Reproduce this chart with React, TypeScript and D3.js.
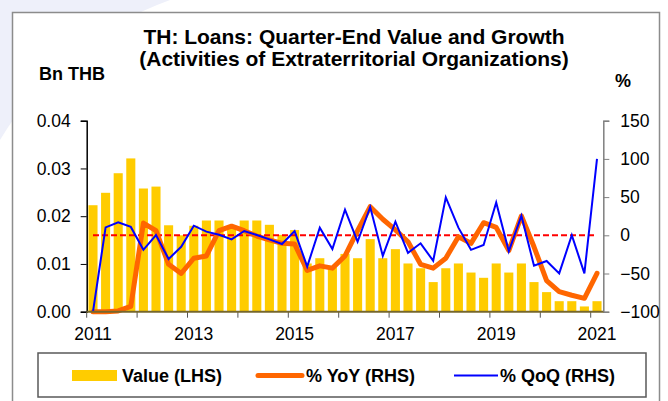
import { useEffect, useRef } from 'react';
import * as d3 from 'd3';

// quarter-end categories, 2011Q1 .. 2021Q1
const quarters = [
  '2011Q1', '2011Q2', '2011Q3', '2011Q4', '2012Q1', '2012Q2', '2012Q3', '2012Q4',
  '2013Q1', '2013Q2', '2013Q3', '2013Q4', '2014Q1', '2014Q2', '2014Q3', '2014Q4',
  '2015Q1', '2015Q2', '2015Q3', '2015Q4', '2016Q1', '2016Q2', '2016Q3', '2016Q4',
  '2017Q1', '2017Q2', '2017Q3', '2017Q4', '2018Q1', '2018Q2', '2018Q3', '2018Q4',
  '2019Q1', '2019Q2', '2019Q3', '2019Q4', '2020Q1', '2020Q2', '2020Q3', '2020Q4',
  '2021Q1',
];

// Value (LHS), Bn THB
const valueBn = [
  0.0223, 0.0249, 0.029, 0.0321, 0.0258, 0.0262, 0.0181, 0.016,
  0.018, 0.0191, 0.0191, 0.0181, 0.0191, 0.0191, 0.0182, 0.0161,
  0.0171, 0.0101, 0.0112, 0.0093, 0.0121, 0.0112, 0.0152, 0.0112,
  0.0131, 0.0101, 0.0091, 0.0062, 0.0091, 0.0101, 0.0082, 0.0071,
  0.0101, 0.0082, 0.0101, 0.0062, 0.0041, 0.0022, 0.0022, 0.0011,
  0.0022,
];

// % YoY (RHS)
const yoyPct = [
  -100, -100, -99, -93, 16, 6, -38, -50,
  -30, -27, 6, 12, 6, -1, -6, -10.5,
  -11.4, -46, -40, -43, -27, 6, 37.5, 21,
  7, -8.4, -38, -43, -30, -2, -10.5, 16.5,
  10.4, -20, 25.3, -15, -59.4, -73.8, -78.5, -82.5,
  -49.8,
];

// % QoQ (RHS)
const qoqPct = [
  -100, 10.4, 17, 11, -19, 0.4, -31, -15,
  12.6, 4.8, 0.8, -5.3, 5.6, 0.4, -5.3, -11.4,
  5.5, -41, 10, -18, 33.5, -8.4, 37, -27,
  17.8, -23, -10.5, -33.4, 49.7, 10, -19, -12.7,
  43, -21, 25.5, -39.8, -33.6, -49.8, 0, -49.8,
  100,
];

const leftTicks = [0, 0.01, 0.02, 0.03, 0.04];
const rightTicks = [-100, -50, 0, 50, 100, 150];
const yearLabels = ['2011', '2013', '2015', '2017', '2019', '2021'];

const FONT = "Arial, 'Liberation Sans', sans-serif";

const App = () => {
  const svgRef = useRef<SVGSVGElement>(null);

  useEffect(() => {
    const svg = d3.select(svgRef.current);
    svg.selectAll('*').remove();

    const plot = { left: 86.7, right: 603.3, top: 120.7, bottom: 311.7 };

    // faint decoration behind the frame
    svg
      .append('path')
      .attr('d', 'M0,0 L170,0 Q60,40 0,140 Z')
      .attr('fill', '#eef0fa');

    // frame
    svg
      .append('rect')
      .attr('x', 12.5)
      .attr('y', 12.5)
      .attr('width', 647)
      .attr('height', 400)
      .attr('fill', '#fff')
      .attr('stroke', '#8c8c8c')
      .attr('stroke-width', 1.5);

    // scales
    const x = d3
      .scaleBand<string>()
      .domain(quarters)
      .range([plot.left, plot.right])
      .paddingInner(0.28)
      .paddingOuter(0.14);
    const xc = (q: string) => (x(q) as number) + x.bandwidth() / 2;

    const yL = d3.scaleLinear().domain([0, 0.04]).range([plot.bottom, plot.top]);
    const yR = d3.scaleLinear().domain([-100, 150]).range([plot.bottom, plot.top]);

    // bars
    svg
      .append('g')
      .selectAll('rect')
      .data(valueBn)
      .join('rect')
      .attr('x', (_d, i) => x(quarters[i]) as number)
      .attr('y', (d) => yL(d))
      .attr('width', x.bandwidth())
      .attr('height', (d) => yL(0) - yL(d))
      .attr('fill', '#ffcc00');

    // zero reference on RHS
    svg
      .append('line')
      .attr('x1', xc(quarters[0]))
      .attr('x2', xc(quarters[quarters.length - 1]))
      .attr('y1', yR(0))
      .attr('y2', yR(0))
      .attr('stroke', '#ff0000')
      .attr('stroke-width', 2)
      .attr('stroke-dasharray', '6,3');

    const line = d3
      .line<number>()
      .x((_d, i) => xc(quarters[i]))
      .y((d) => yR(d));

    svg
      .append('path')
      .datum(yoyPct)
      .attr('fill', 'none')
      .attr('stroke', '#ff6600')
      .attr('stroke-width', 5)
      .attr('stroke-linejoin', 'round')
      .attr('stroke-linecap', 'round')
      .attr('d', line);

    svg
      .append('path')
      .datum(qoqPct)
      .attr('fill', 'none')
      .attr('stroke', '#0000ff')
      .attr('stroke-width', 2)
      .attr('d', line);

    // left axis
    const gL = svg
      .append('g')
      .attr('transform', `translate(${plot.left},0)`)
      .call(
        d3
          .axisLeft(yL)
          .tickValues(leftTicks)
          .tickFormat(d3.format('.2f'))
          .tickSize(6)
          .tickPadding(10)
      );
    gL.select('.domain').attr('stroke', '#000').attr('stroke-width', 1.5);
    gL.selectAll('.tick line').attr('stroke', '#000');
    gL.selectAll('text').attr('font-size', 17.5).attr('font-family', FONT).attr('fill', '#000');

    // right axis
    const gR = svg
      .append('g')
      .attr('transform', `translate(${plot.right},0)`)
      .call(d3.axisRight(yR).tickValues(rightTicks).tickSize(6).tickPadding(11));
    gR.select('.domain').attr('stroke', '#808080').attr('stroke-width', 1.5);
    gR.selectAll('.tick line').attr('stroke', '#808080');
    gR.selectAll('text').attr('font-size', 17.5).attr('font-family', FONT).attr('fill', '#000');

    // category axis
    const step = x.step();
    const gX = svg.append('g');
    gX.selectAll('line')
      .data(d3.range(0, quarters.length, 4))
      .join('line')
      .attr('x1', (k) => plot.left + k * step)
      .attr('x2', (k) => plot.left + k * step)
      .attr('y1', plot.bottom)
      .attr('y2', plot.bottom + 6)
      .attr('stroke', '#555');
    gX.append('line')
      .attr('x1', plot.left)
      .attr('x2', plot.right)
      .attr('y1', plot.bottom)
      .attr('y2', plot.bottom)
      .attr('stroke', '#76672c')
      .attr('stroke-width', 2);
    gX.selectAll('text')
      .data(yearLabels)
      .join('text')
      .attr('x', (d) => xc(`${d}Q1`))
      .attr('y', 340)
      .attr('text-anchor', 'middle')
      .attr('font-size', 17.5)
      .attr('font-family', FONT)
      .text((d) => d);

    // titles
    const title = svg
      .append('text')
      .attr('text-anchor', 'middle')
      .attr('font-size', 21)
      .attr('font-weight', 'bold')
      .attr('font-family', FONT);
    title.append('tspan').attr('x', 354).attr('y', 44).text('TH: Loans: Quarter-End Value and Growth');
    title.append('tspan').attr('x', 354).attr('y', 66).text('(Activities of Extraterritorial Organizations)');

    svg
      .append('text')
      .attr('x', 39)
      .attr('y', 80)
      .attr('font-size', 18)
      .attr('font-weight', 'bold')
      .attr('font-family', FONT)
      .text('Bn THB');
    svg
      .append('text')
      .attr('x', 615)
      .attr('y', 87)
      .attr('font-size', 18)
      .attr('font-weight', 'bold')
      .attr('font-family', FONT)
      .text('%');

    // legend
    const legend = svg.append('g');
    legend
      .append('rect')
      .attr('x', 38)
      .attr('y', 353)
      .attr('width', 608)
      .attr('height', 44)
      .attr('fill', '#fff')
      .attr('stroke', '#595959')
      .attr('stroke-width', 1.5);
    legend
      .append('rect')
      .attr('x', 72)
      .attr('y', 370)
      .attr('width', 45)
      .attr('height', 11)
      .attr('fill', '#ffcc00');
    legend
      .append('line')
      .attr('x1', 258)
      .attr('x2', 302)
      .attr('y1', 375.5)
      .attr('y2', 375.5)
      .attr('stroke', '#ff6600')
      .attr('stroke-width', 5)
      .attr('stroke-linecap', 'round');
    legend
      .append('line')
      .attr('x1', 454)
      .attr('x2', 498)
      .attr('y1', 375.5)
      .attr('y2', 375.5)
      .attr('stroke', '#0000ff')
      .attr('stroke-width', 2);
    legend
      .selectAll('text')
      .data([
        { label: 'Value (LHS)', x: 122 },
        { label: '% YoY (RHS)', x: 306 },
        { label: '% QoQ (RHS)', x: 500 },
      ])
      .join('text')
      .attr('x', (d) => d.x)
      .attr('y', 382)
      .attr('font-size', 18)
      .attr('font-weight', 'bold')
      .attr('font-family', FONT)
      .text((d) => d.label);
  }, []);

  return (
    <div style={{ position: 'absolute', left: 0, top: 0 }}>
      <svg ref={svgRef} width={668} height={401} style={{ display: 'block' }}></svg>
    </div>
  );
};

export default App;
